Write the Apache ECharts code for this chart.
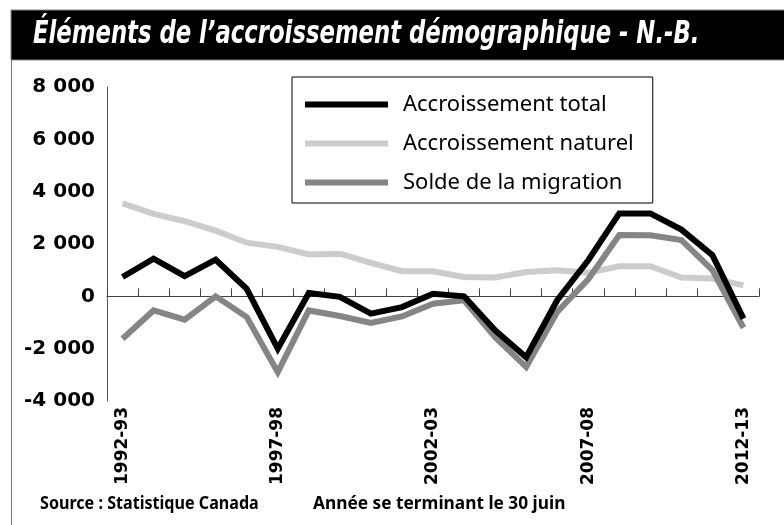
<!DOCTYPE html>
<html>
<head>
<meta charset="utf-8">
<script src="https://cdn.jsdelivr.net/npm/echarts@6/dist/echarts.min.js"></script>
<style>
  html, body { margin: 0; padding: 0; background: #fff; }
  #main { width: 784px; height: 525px; }
</style>
</head>
<body>
<div id="main"></div>
<script>
(function () {
  var myChart = echarts.init(document.getElementById('main'));

  // années (se terminant le 30 juin)
  var annees = ['1992-93', '1993-94', '1994-95', '1995-96', '1996-97', '1997-98', '1998-99',
    '1999-00', '2000-01', '2001-02', '2002-03', '2003-04', '2004-05', '2005-06', '2006-07',
    '2007-08', '2008-09', '2009-10', '2010-11', '2011-12', '2012-13'];
  var accroissementTotal = [740, 1440, 770, 1400, 290, -2000, 130, -20, -660, -410, 100, 0,
    -1300, -2330, -150, 1380, 3170, 3170, 2550, 1570, -850];
  var accroissementNaturel = [3550, 3150, 2870, 2510, 2050, 1890, 1600, 1630, 1280, 960, 960, 740,
    720, 930, 1000, 900, 1150, 1150, 720, 680, 420];
  var soldeMigration = [-1620, -540, -890, 0, -790, -2900, -540, -750, -1020, -770, -280, -150,
    -1560, -2700, -600, 650, 2340, 2330, 2150, 1000, -1200];

  function fmt(v) {
    var s = Math.abs(v).toString();
    if (s.length > 3) s = s.slice(0, s.length - 3) + ' ' + s.slice(s.length - 3);
    return (v < 0 ? '-' : '') + s;
  }

  var joinStyle = { join: 'miter', cap: 'butt', miterLimit: 10 };

  option = {
    animation: false,
    grid: { left: 107, right: 25, top: 87, bottom: 124 },
    legend: {
      orient: 'vertical',
      left: 292,
      top: 77,
      padding: [14, 19, 7, 13],
      itemGap: 12,
      itemWidth: 83,
      itemHeight: 6,
      icon: 'rect',
      borderColor: '#000',
      borderWidth: 1,
      textStyle: {
        fontFamily: 'Noto Sans',
        fontSize: 22,
        color: '#000',
        padding: [0, 0, 0, 10],
        lineHeight: 27
      },
      data: ['Accroissement total', 'Accroissement naturel', 'Solde de la migration']
    },
    xAxis: [
      {
        // libellés des années, en bas
        type: 'category',
        data: annees,
        position: 'bottom',
        axisLine: { show: false, onZero: false },
        axisTick: { show: false },
        axisLabel: {
          interval: 4,
          rotate: 90,
          margin: 6,
          fontFamily: 'DejaVu Sans',
          fontWeight: 'bold',
          fontSize: 17,
          color: '#000'
        }
      },
      {
        // ligne du zéro avec graduations vers le haut
        type: 'category',
        data: annees,
        position: 'top',
        axisLine: { show: true, onZero: true, onZeroAxisIndex: 0, lineStyle: { color: '#444', width: 1 } },
        axisTick: { show: true, inside: false, length: 8, interval: 0, lineStyle: { color: '#444', width: 1 } },
        axisLabel: { show: false }
      }
    ],
    yAxis: {
      type: 'value',
      min: -4000,
      max: 8000,
      interval: 2000,
      splitLine: { show: false },
      axisLine: { show: true, onZero: false, lineStyle: { color: '#555', width: 1 } },
      axisTick: { show: false },
      axisLabel: {
        margin: 12,
        formatter: fmt,
        fontFamily: 'DejaVu Sans',
        fontWeight: 'bold',
        fontSize: 20,
        color: '#000'
      }
    },
    series: [
      {
        name: 'Accroissement total',
        type: 'line',
        z: 4,
        data: accroissementTotal,
        symbol: 'none',
        color: '#000',
        lineStyle: Object.assign({ color: '#000', width: 6 }, joinStyle)
      },
      {
        name: 'Accroissement naturel',
        type: 'line',
        z: 2,
        data: accroissementNaturel,
        symbol: 'none',
        color: '#cccccc',
        lineStyle: Object.assign({ color: '#cccccc', width: 6 }, joinStyle)
      },
      {
        name: 'Solde de la migration',
        type: 'line',
        z: 3,
        data: soldeMigration,
        symbol: 'none',
        color: '#858585',
        lineStyle: Object.assign({ color: '#858585', width: 6 }, joinStyle)
      }
    ],
    graphic: [
      {
        type: 'rect',
        shape: { x: 11, y: 10, width: 780, height: 50 },
        style: { fill: '#000', stroke: '#888', lineWidth: 1 }
      },
      {
        type: 'line',
        shape: { x1: 11.5, y1: 60, x2: 11.5, y2: 525 },
        style: { stroke: '#777', lineWidth: 1 }
      },
      {
        type: 'text',
        x: 33,
        y: 35,
        scaleX: 0.79,
        style: {
          text: 'Éléments de l’accroissement démographique - N.-B.',
          fill: '#fff',
          font: 'italic bold 32px "DejaVu Sans Condensed", "DejaVu Sans", sans-serif',
          textVerticalAlign: 'middle'
        }
      },
      {
        type: 'text',
        x: 40,
        y: 504,
        scaleX: 0.895,
        style: {
          text: 'Source : Statistique Canada',
          fill: '#000',
          font: 'bold 18px "Noto Sans", sans-serif',
          textVerticalAlign: 'middle'
        }
      },
      {
        type: 'text',
        x: 313,
        y: 504,
        scaleX: 0.96,
        style: {
          text: 'Année se terminant le 30 juin',
          fill: '#000',
          font: 'bold 18px "Noto Sans", sans-serif',
          textVerticalAlign: 'middle'
        }
      }
    ]
  };

  myChart.setOption(option);
})();
</script>
</body>
</html>
